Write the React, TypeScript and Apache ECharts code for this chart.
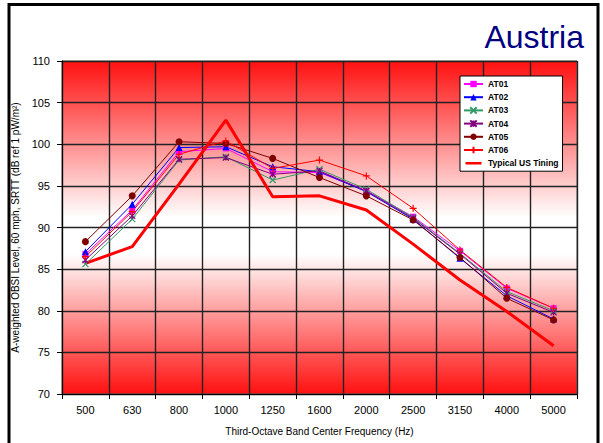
import React, { useEffect, useRef } from "react";
import * as echarts from "echarts";

const categories = ["500", "630", "800", "1000", "1250", "1600", "2000", "2500", "3150", "4000", "5000"];
const at01 = [86.8, 92.1, 99.1, 99.5, 96.7, 96.6, 94.4, 91.3, 87.2, 82.7, 80.3];
const at02 = [87.1, 92.8, 99.6, 99.7, 97.3, 96.7, 94.3, 91.0, 86.3, 81.8, 79.0];
const at03 = [85.6, 91.0, 98.1, 98.5, 95.7, 97.0, 94.6, 91.2, 86.9, 82.3, 80.0];
const at04 = [86.1, 91.4, 98.2, 98.4, 96.4, 96.8, 94.4, 91.1, 86.8, 82.1, 79.8];
const at05 = [88.3, 93.8, 100.3, 100.1, 98.3, 96.0, 93.8, 90.9, 86.4, 81.5, 78.9];
const at06 = [86.5, 91.9, 98.8, 100.4, 97.1, 98.1, 96.2, 92.3, 87.3, 82.8, 80.3];
const usTining = [85.7, 87.7, 95.2, 102.9, 93.7, 93.8, 92.1, 88.0, 83.7, 79.9, 75.8];
const seriesNames = ["AT01", "AT02", "AT03", "AT04", "AT05", "AT06", "Typical US Tining"];

const FONT = "Arial, 'Liberation Sans', sans-serif";

export default function App() {
  const ref = useRef<HTMLDivElement>(null);
  useEffect(() => {
    document.body.style.margin = "0";
    const chart = echarts.init(ref.current!, null, { renderer: "svg" });
    const mk = (name: string, data: number[], color: string, symbol: string, size: number, stroke: boolean) => ({
      name,
      type: "line",
      data,
      symbol,
      symbolSize: size,
      lineStyle: { color, width: 1 },
      itemStyle: stroke
        ? { color: "rgba(0,0,0,0)", borderColor: color, borderWidth: 1.2 }
        : { color, borderColor: color, borderWidth: 0 },
      emphasis: { disabled: true },
    });
    const legendData = seriesNames.map((n) =>
      n === "Typical US Tining"
        ? { name: n, icon: "path://M0,0H20V0.02H0Z M0,3.4H20V6.6H0Z M0,9.98H20V10H0Z" }
        : { name: n }
    );
    chart.setOption({
      animation: false,
      textStyle: { fontFamily: FONT },
      title: {
        text: "Austria",
        right: 14,
        top: 16,
        textStyle: { color: "#000080", fontSize: 32, fontWeight: "normal", fontFamily: FONT },
      },
      graphic: [
        {
          type: "rect",
          shape: { x: 9, y: 4.5, width: 589, height: 460 },
          style: { fill: "none", stroke: "#000", lineWidth: 3 },
          silent: true,
        },
      ],
      legend: {
        data: legendData,
        orient: "vertical",
        left: 460,
        top: 76,
        itemWidth: 19,
        itemHeight: 8,
        itemGap: 3.2,
        padding: [3, 4, 3, 3],
        backgroundColor: "#fff",
        borderColor: "#000",
        borderWidth: 1,
        textStyle: { fontSize: 8.5, fontWeight: "bold", color: "#000", lineHeight: 10, fontFamily: FONT },
      },
      grid: {
        left: 62,
        top: 61,
        width: 515,
        height: 333,
        show: true,
        borderColor: "#666",
        borderWidth: 1,
        backgroundColor: {
          type: "linear",
          x: 0,
          y: 0,
          x2: 0,
          y2: 1,
          colorStops: [
            { offset: 0, color: "#ff1010" },
            { offset: 0.47, color: "#ffffff" },
            { offset: 0.58, color: "#ffffff" },
            { offset: 1, color: "#ff1010" },
          ],
        },
      },
      xAxis: {
        type: "category",
        data: categories,
        boundaryGap: true,
        name: "Third-Octave Band Center Frequency (Hz)",
        nameLocation: "middle",
        nameGap: 32,
        nameTextStyle: { fontSize: 10, color: "#000", fontFamily: FONT },
        axisLine: { lineStyle: { color: "#000", width: 1 } },
        axisTick: { show: true, length: 5, lineStyle: { color: "#000" } },
        axisLabel: { fontSize: 11, color: "#000", margin: 10, fontFamily: FONT },
        splitLine: { show: true, lineStyle: { color: "#222", width: 1.4 } },
      },
      yAxis: {
        type: "value",
        min: 70,
        max: 110,
        interval: 5,
        name: "A-weighted OBSI Level, 60 mph, SRTT (dB ref 1 pW/m²)",
        nameLocation: "middle",
        nameGap: 34,
        nameTextStyle: { fontSize: 10, color: "#000", fontFamily: FONT },
        axisLine: { show: true, lineStyle: { color: "#000", width: 1 } },
        axisTick: { show: true, length: 5, lineStyle: { color: "#000" } },
        axisLabel: { fontSize: 11, color: "#000", margin: 12, fontFamily: FONT },
        splitLine: { show: true, lineStyle: { color: "#222", width: 1.4 } },
      },
      series: [
        mk("AT01", at01, "#ff00ff", "rect", 6, false),
        mk("AT02", at02, "#0000ff", "triangle", 7, false),
        mk("AT03", at03, "#339966", "path://M0,0L10,10M10,0L0,10", 6, true),
        mk("AT04", at04, "#800080", "path://M0,0L10,10M10,0L0,10M5,0L5,10", 6, true),
        mk("AT05", at05, "#800000", "circle", 7, false),
        mk("AT06", at06, "#ff0000", "path://M5,0L5,10M0,5L10,5", 7, true),
        {
          name: "Typical US Tining",
          type: "line",
          data: usTining,
          symbol: "none",
          lineStyle: { color: "#ff0000", width: 3 },
          itemStyle: { color: "#ff0000" },
          emphasis: { disabled: true },
        },
      ],
    });
    return () => chart.dispose();
  }, []);
  return <div ref={ref} style={{ width: 603, height: 443 }} />;
}
